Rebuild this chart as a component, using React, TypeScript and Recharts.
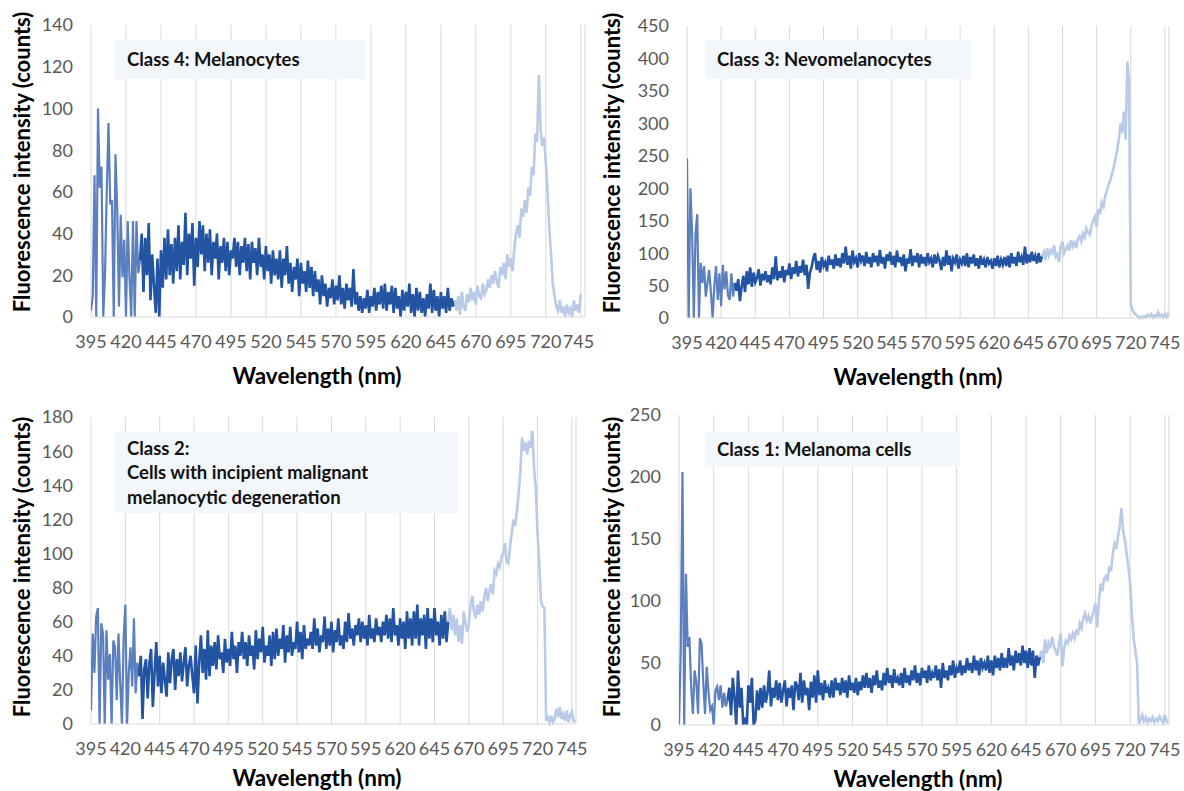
import React from 'react';
import { LineChart, Line, XAxis, YAxis, CartesianGrid } from 'recharts';

const wavelengthTicks = [395, 420, 445, 470, 495, 520, 545, 570, 595, 620, 645, 670, 695, 720, 745];

// Every spectrum is split into three colour bands (all at a 1.25 nm step):
// 395-430 nm, 430-655 nm and 655 nm onwards
const class4Start = [3, 10, 68, 0, 100, 62, 72, 0, 20, 60, 93, 54, 56, 0, 78, 51, 5, 49, 19, 37, 0, 46, 19, 0, 46, 0, 46, 21, 27];
const class4Mid = [
  27, 40, 12, 38, 20, 45, 8, 30, 15, 2, 28, 0, 32, 14, 38, 18, 42, 20, 35, 16,
  38, 22, 44, 18, 36, 25, 50, 20, 40, 28, 45, 15, 38, 24, 46, 30, 44, 22, 40, 26,
  42, 20, 36, 28, 40, 18, 34, 26, 38, 22, 36, 20, 32, 28, 38, 24, 36, 20, 34, 26,
  38, 22, 35, 18, 36, 26, 33, 20, 38, 24, 30, 18, 34, 22, 30, 16, 32, 20, 28, 18,
  32, 14, 28, 20, 34, 16, 26, 12, 24, 18, 28, 10, 26, 16, 22, 12, 27, 14, 24, 10,
  22, 12, 18, 6, 20, 10, 16, 5, 14, 9, 18, 6, 15, 8, 20, 6, 14, 4, 16, 8,
  14, 5, 23, 6, 12, 3, 10, 2, 9, 4, 13, 2, 10, 5, 14, 3, 12, 6, 15, 4,
  16, 3, 12, 6, 15, 2, 14, 4, 10, 0, 13, 3, 12, 5, 16, 2, 11, 0, 14, 3,
  12, 2, 9, 0, 11, 4, 16, 2, 13, 3, 10, 0, 12, 4, 10, 2, 14, 3, 9, 5,
  8,
];
const class4End = [
  8, 3, 10, 1, 12, 5, 3, 11, 7, 14, 8, 12, 6, 15, 10, 9, 16, 11, 13, 18,
  14, 20, 16, 22, 17, 14, 24, 20, 26, 18, 30, 24, 28, 22, 33, 40, 44, 38, 52, 48,
  56, 50, 62, 58, 72, 68, 88, 84, 116, 90, 82, 86, 74, 60, 42, 30, 16, 10, 5, 3,
  8, 2, 5, 0, 6, 2, 4, 0, 8, 3, 6, 2, 11,
];

const class3Start = [246, 0, 200, 130, 0, 130, 160, 0, 85, 54, 80, 33, 54, 74, 40, 0, 49, 80, 28, 69, 18, 82, 44, 72, 35, 28, 69, 33, 54];
const class3Mid = [
  54, 42, 60, 26, 48, 65, 40, 72, 52, 78, 48, 70, 55, 62, 75, 50, 68, 58, 72, 55,
  66, 52, 78, 60, 95, 58, 72, 62, 80, 55, 74, 66, 84, 60, 78, 68, 88, 64, 80, 70,
  90, 66, 82, 45, 70, 78, 92, 100, 74, 88, 70, 94, 80, 86, 72, 96, 82, 90, 76, 98,
  80, 92, 78, 100, 84, 110, 82, 96, 76, 104, 86, 92, 78, 100, 88, 96, 80, 102, 84, 94,
  78, 100, 86, 96, 80, 105, 84, 94, 76, 98, 88, 102, 82, 96, 78, 104, 86, 94, 80, 98,
  72, 92, 84, 106, 80, 96, 86, 100, 78, 98, 84, 94, 80, 100, 86, 92, 78, 98, 84, 96,
  88, 74, 94, 80, 104, 82, 96, 72, 92, 86, 98, 76, 90, 84, 96, 80, 100, 78, 94, 84,
  98, 80, 92, 76, 96, 82, 90, 78, 94, 84, 88, 76, 92, 80, 96, 78, 90, 82, 94, 80,
  96, 78, 100, 84, 94, 80, 102, 86, 94, 82, 110, 84, 98, 86, 102, 88, 96, 84, 100, 86,
  95,
];
const class3End = [
  95, 102, 90, 108, 96, 104, 100, 112, 94, 98, 86, 110, 118, 100, 106, 112, 104, 120, 110, 116,
  108, 122, 126, 118, 130, 124, 138, 132, 128, 142, 150, 156, 140, 168, 160, 178, 172, 188, 196, 205,
  212, 222, 232, 245, 258, 275, 300, 285, 318, 275, 395, 365, 22, 12, 8, 5, 3, 0, 2, 0,
  3, 1, 5, 2, 6, 1, 4, 2, 9, 3, 5, 1, 6, 2, 8,
];

const class2Start = [8, 53, 30, 63, 68, 0, 59, 53, 0, 55, 26, 41, 0, 49, 45, 14, 53, 24, 0, 50, 70, 0, 30, 45, 22, 62, 18, 36, 28];
const class2Mid = [
  28, 40, 3, 32, 38, 15, 36, 44, 10, 30, 48, 22, 40, 18, 36, 26, 16, 42, 24, 38,
  44, 20, 38, 28, 42, 25, 36, 45, 22, 34, 40, 28, 18, 46, 12, 36, 52, 30, 44, 26,
  55, 28, 46, 34, 48, 32, 52, 38, 42, 30, 50, 36, 44, 34, 54, 38, 46, 30, 48, 40,
  54, 38, 48, 34, 52, 40, 46, 32, 55, 38, 50, 42, 57, 36, 46, 40, 52, 34, 54, 38,
  56, 40, 50, 44, 58, 36, 52, 42, 57, 40, 48, 44, 60, 42, 54, 38, 58, 44, 50, 46,
  54, 44, 62, 46, 56, 42, 52, 48, 63, 44, 56, 46, 60, 42, 55, 48, 62, 46, 52, 44,
  60, 48, 65, 50, 56, 46, 58, 52, 62, 48, 60, 50, 58, 46, 64, 50, 56, 48, 62, 52,
  57, 48, 60, 52, 64, 50, 62, 48, 68, 52, 58, 46, 62, 50, 60, 44, 66, 50, 62, 46,
  66, 50, 70, 46, 62, 52, 64, 44, 68, 50, 62, 48, 68, 52, 60, 46, 64, 50, 66, 48,
  60,
];
const class2End = [
  60, 68, 55, 64, 52, 62, 48, 58, 47, 66, 60, 54, 58, 70, 75, 66, 62, 70, 64, 72,
  66, 74, 80, 72, 78, 82, 76, 90, 88, 94, 92, 98, 100, 106, 95, 94, 104, 112, 120, 116,
  125, 135, 148, 168, 160, 165, 158, 166, 162, 172, 150, 138, 112, 95, 72, 69, 68, 2, 4, 1,
  5, 1, 3, 9, 4, 10, 3, 6, 2, 8, 1, 5, 7, 2, 1,
];

const class1Start = [0, 60, 204, 0, 122, 63, 71, 31, 9, 44, 34, 9, 70, 66, 34, 9, 47, 26, 12, 15, 0, 28, 31, 20, 32, 14, 26, 15, 20];
const class1Mid = [
  20, 30, 8, 38, 22, 0, 44, 14, 30, 0, 6, 0, 32, 18, 38, 0, 4, 28, 12, 30,
  14, 32, 18, 26, 44, 15, 30, 22, 36, 20, 34, 18, 28, 36, 15, 30, 22, 32, 12, 35,
  32, 20, 42, 18, 36, 24, 30, 12, 35, 22, 40, 18, 44, 24, 34, 20, 36, 26, 30, 22,
  36, 22, 38, 28, 34, 24, 38, 26, 36, 22, 40, 28, 34, 26, 38, 24, 35, 28, 40, 30,
  42, 30, 38, 26, 40, 32, 44, 30, 36, 28, 42, 32, 46, 34, 40, 30, 45, 34, 38, 32,
  42, 30, 46, 34, 40, 32, 44, 36, 48, 34, 42, 32, 46, 38, 44, 34, 48, 36, 42, 38,
  48, 36, 45, 30, 50, 38, 44, 36, 48, 40, 52, 38, 46, 42, 52, 40, 48, 42, 54, 44,
  50, 42, 56, 44, 52, 40, 54, 46, 50, 44, 56, 42, 52, 40, 56, 46, 54, 44, 58, 46,
  54, 46, 62, 48, 56, 44, 60, 50, 58, 48, 64, 50, 60, 46, 62, 48, 60, 38, 56, 48,
  55,
];
const class1End = [
  55, 60, 50, 69, 58, 66, 62, 71, 64, 60, 56, 66, 74, 47, 62, 68, 66, 72, 69, 74,
  70, 76, 74, 82, 78, 86, 90, 84, 88, 82, 87, 92, 98, 79, 100, 114, 108, 118, 120, 116,
  128, 124, 138, 146, 142, 152, 160, 175, 156, 149, 138, 128, 114, 90, 70, 60, 50, 1, 4, 8,
  3, 6, 2, 5, 3, 6, 2, 5, 3, 7, 4, 2, 8, 3, 2,
];

const class4Ticks = [0, 20, 40, 60, 80, 100, 120, 140];
const class3Ticks = [0, 50, 100, 150, 200, 250, 300, 350, 400, 450];
const class2Ticks = [0, 20, 40, 60, 80, 100, 120, 140, 160, 180];
const class1Ticks = [0, 50, 100, 150, 200, 250];

const FONT = 'Lato, "Open Sans", sans-serif';
const W = 592;
const H = 395;
const Y_AXIS_W = 60;
const X_AXIS_H = 30;
const STEP = 1.25;

function toPoints(start: number, values: number[]) {
  return values.map((v, i) => ({ wl: start + i * STEP, v }));
}

function SpectrumPanel({ left, top, plot, ticks, start, mid, end, label, box, yTitle, xTitle }: any) {
  const margin = {
    top: plot.top,
    right: W - plot.right,
    left: plot.left - Y_AXIS_W,
    bottom: H - plot.bottom - X_AXIS_H,
  };
  return (
    <div style={{ position: 'absolute', left, top, width: W, height: H }}>
      <LineChart width={W} height={H} margin={margin}>
        <CartesianGrid horizontal={false} stroke="#d9d9d9" />
        <XAxis
          type="number"
          dataKey="wl"
          domain={[395, 748]}
          ticks={wavelengthTicks}
          allowDataOverflow
          height={X_AXIS_H}
          tickLine={false}
          tickSize={0}
          tickMargin={18}
          axisLine={{ stroke: '#d9d9d9' }}
          tick={{ fill: '#595959', fontSize: 18, fontFamily: FONT }}
        />
        <YAxis
          type="number"
          domain={[0, ticks[ticks.length - 1]]}
          ticks={ticks}
          width={Y_AXIS_W}
          axisLine={false}
          tickLine={false}
          tickSize={0}
          tickMargin={18}
          tick={{ fill: '#595959', fontSize: 18, fontFamily: FONT }}
        />
        <Line data={toPoints(395, start)} dataKey="v" type="linear" stroke="#5b7fbf" strokeWidth={2.2} dot={false} isAnimationActive={false} />
        <Line data={toPoints(430, mid)} dataKey="v" type="linear" stroke="#2353a3" strokeWidth={2.6} dot={false} isAnimationActive={false} />
        <Line data={toPoints(655, end)} dataKey="v" type="linear" stroke="#b9cbe6" strokeWidth={2.6} dot={false} isAnimationActive={false} />
      </LineChart>
      <div
        style={{
          position: 'absolute', left: box.x, top: box.y, width: box.w, height: box.h,
          background: '#f3f6fa', boxSizing: 'border-box', padding: '0 0 0 12px',
          display: 'flex', flexDirection: 'column', justifyContent: 'center',
          fontFamily: FONT, fontWeight: 700, fontSize: 18.5, lineHeight: '24.5px', color: '#111',
        }}
      >
        {label.map((t: string) => <div key={t}>{t}</div>)}
      </div>
      <div
        style={{
          position: 'absolute', left: yTitle[0], top: yTitle[1], transform: 'translate(-50%, -50%) rotate(-90deg)',
          whiteSpace: 'nowrap', fontFamily: FONT, fontWeight: 700, fontSize: 22, color: '#000',
        }}
      >
        Fluorescence intensity (counts)
      </div>
      <div
        style={{
          position: 'absolute', left: xTitle[0], top: xTitle[1], transform: 'translate(-50%, -50%)',
          whiteSpace: 'nowrap', fontFamily: FONT, fontWeight: 700, fontSize: 22.5, color: '#000',
        }}
      >
        Wavelength (nm)
      </div>
    </div>
  );
}

export default function App() {
  return (
    <div style={{ position: 'absolute', left: 0, top: 0, width: 1184, height: 791, background: '#fff', overflow: 'hidden' }}>
      <style>{'.recharts-surface { overflow: visible; }'}</style>
      <SpectrumPanel
        left={0} top={0}
        plot={{ left: 91, right: 585, top: 25, bottom: 317 }}
        ticks={class4Ticks} start={class4Start} mid={class4Mid} end={class4End}
        label={['Class 4: Melanocytes']}
        box={{ x: 115, y: 40, w: 250, h: 39 }}
        yTitle={[21, 162]} xTitle={[317, 375]}
      />
      <SpectrumPanel
        left={592} top={0}
        plot={{ left: 95, right: 577, top: 26, bottom: 318 }}
        ticks={class3Ticks} start={class3Start} mid={class3Mid} end={class3End}
        label={['Class 3: Nevomelanocytes']}
        box={{ x: 113, y: 40, w: 267, h: 39 }}
        yTitle={[19, 163]} xTitle={[326, 376]}
      />
      <SpectrumPanel
        left={0} top={395}
        plot={{ left: 91, right: 576, top: 22, bottom: 329 }}
        ticks={class2Ticks} start={class2Start} mid={class2Mid} end={class2End}
        label={['Class 2:', 'Cells with incipient malignant', 'melanocytic degeneration']}
        box={{ x: 115, y: 37, w: 343, h: 81 }}
        yTitle={[21, 172]} xTitle={[317, 382]}
      />
      <SpectrumPanel
        left={592} top={395}
        plot={{ left: 87, right: 577, top: 20, bottom: 330 }}
        ticks={class1Ticks} start={class1Start} mid={class1Mid} end={class1End}
        label={['Class 1: Melanoma cells']}
        box={{ x: 113, y: 37, w: 255, h: 35 }}
        yTitle={[19, 172]} xTitle={[326, 383]}
      />
    </div>
  );
}
